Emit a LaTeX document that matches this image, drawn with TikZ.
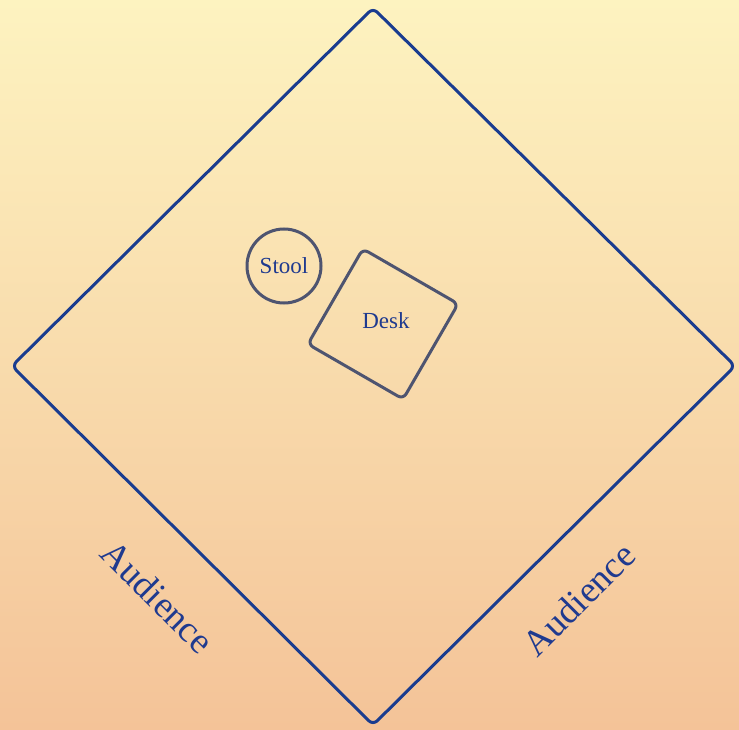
\documentclass[tikz,border=0pt]{standalone}
\usepackage{fontspec}
\setmainfont{Liberation Serif}
\usepackage{xcolor}
\usepackage{tikz}
\usetikzlibrary{calc,positioning}
\definecolor{stageBlue}{RGB}{26,60,143}
\definecolor{propGray}{RGB}{78,84,112}
\definecolor{inkBlue}{RGB}{31,58,143}
\definecolor{bgTop}{RGB}{253,243,192}
\definecolor{bgBottom}{RGB}{244,195,152}

\begin{document}
\begin{tikzpicture}[x=1pt, y=1pt, every node/.style={font=\fontsize{23}{25}\selectfont, text=inkBlue}]
\shade[top color=bgTop, bottom color=bgBottom] (0,0) rectangle (739,-730);
\useasboundingbox (0,0) rectangle (739,-730);

% stage outline
\coordinate (top) at (373,-8);
\coordinate (right) at (735,-366);
\coordinate (bottom) at (373,-725);
\coordinate (left) at (12,-366);
\draw[draw=stageBlue, line width=3pt, rounded corners=6pt, line join=round] (top)--(right)--(bottom)--(left)--cycle;

% props
\node[draw=propGray, circle, line width=3pt, minimum size=74pt, inner sep=0pt] (stool) at (284,-266) {Stool};
\node[draw=propGray, rounded corners=6pt, line width=3pt, minimum size=110pt, inner sep=0pt, rotate=-30] (desk) at (383,-324) {};
\node (desklabel) at (386,-321) {Desk};

% audience
\node[font=\fontsize{37}{39}\selectfont, rotate=-45] (audleft) at (158,-597) {Audience};
\node[font=\fontsize{37}{39}\selectfont, rotate=45] (audright) at (579,-599) {Audience};
\end{tikzpicture}
\end{document}
